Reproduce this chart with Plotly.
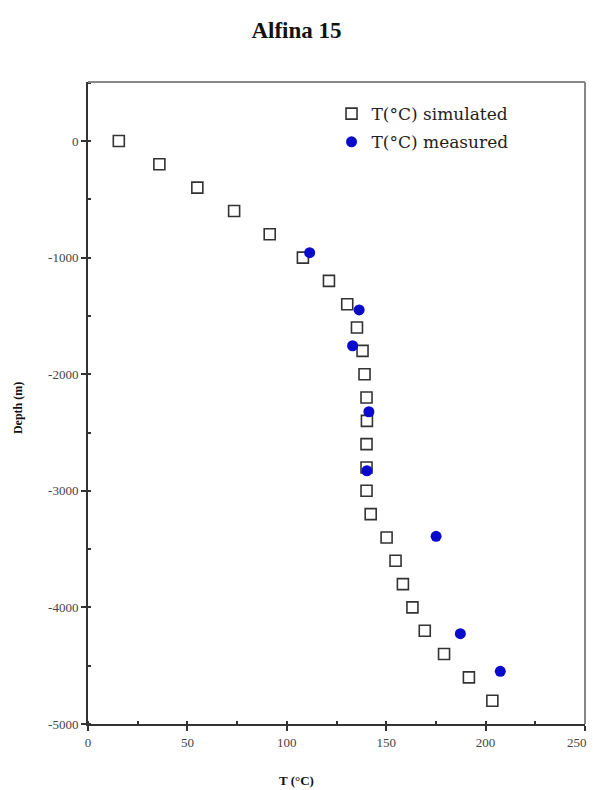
import plotly.graph_objects as go

# ---- data ----
sim_depth = [0, -200, -400, -600, -800, -1000, -1200, -1400, -1600, -1800, -2000,
             -2200, -2400, -2600, -2800, -3000, -3200, -3400, -3600, -3800, -4000,
             -4200, -4400, -4600, -4800]
sim_temp = [15.5, 35.9, 55.0, 73.5, 91.4, 108.1, 121.2, 130.4, 135.3, 138.1, 139.1,
            140.1, 140.3, 140.1, 140.1, 140.1, 142.2, 150.2, 154.7, 158.4, 163.2,
            169.4, 179.1, 191.6, 203.4]

meas_depth = [-958, -1449, -1756, -2322, -2828, -3390, -4225, -4548]
meas_temp = [111.5, 136.4, 133.1, 141.3, 140.3, 175.1, 187.3, 207.4]

y_tickvals = [0, -1000, -2000, -3000, -4000, -5000]
y_ticktext = ["0", "-1000", "-2000", "-3000", "-4000", "-5000"]
x_tickvals = [0, 50, 100, 150, 200, 250]
x_ticktext = ["0", "50", "100", "150", "200", "250"]

SERIF = "Liberation Serif, Times New Roman, serif"
LEG_SERIF = "DejaVu Serif, serif"
TICKFONT = dict(family=SERIF, size=13, color="#444444")

fig = go.Figure()
fig.add_trace(go.Scatter(
    x=sim_temp, y=sim_depth, mode="markers", name="T(°C) simulated",
    legendgroup="a",
    marker=dict(symbol="square-open", size=11, color="#333333",
                line=dict(width=1.6, color="#333333")),
))
fig.add_trace(go.Scatter(
    x=meas_temp, y=meas_depth, mode="markers", name="T(°C) measured",
    legendgroup="b",
    marker=dict(symbol="circle", size=11, color="#0a0acc"),
))

# top and right frame lines (lighter gray)
fig.add_shape(type="line", xref="paper", yref="paper", x0=0, x1=1, y0=1, y1=1,
              line=dict(color="#888888", width=2))
fig.add_shape(type="line", xref="paper", yref="paper", x0=1, x1=1, y0=0, y1=1,
              line=dict(color="#888888", width=2))

fig.add_annotation(text="<b>Depth (m)</b>", xref="paper", yref="paper",
                   x=-0.141, y=0.492, textangle=-90, showarrow=False,
                   font=dict(family=SERIF, size=12, color="#111111"),
                   xanchor="center", yanchor="middle")
fig.add_annotation(text="<b>T (°C)</b>", xref="paper", yref="paper",
                   x=0.42, y=-0.0875, showarrow=False,
                   font=dict(family=SERIF, size=13, color="#111111"),
                   xanchor="center", yanchor="middle")

# last x tick label sits at the figure's right edge: draw it nudged inward
fig.add_annotation(text=x_ticktext[-1], xref="x", yref="paper",
                   x=x_tickvals[-1], y=0, xshift=-8, yshift=-18,
                   showarrow=False, font=TICKFONT,
                   xanchor="center", yanchor="middle")

fig.update_layout(
    width=593, height=790,
    margin=dict(l=87.5, r=8, t=82, b=66),
    paper_bgcolor="white", plot_bgcolor="white",
    title=dict(text="<b>Alfina 15</b>", x=0.5, xanchor="center",
               y=1 - 30 / 790, yanchor="middle", yref="container",
               font=dict(family=SERIF, size=23, color="#111111")),
    showlegend=True,
    legend=dict(x=0.49, y=0.978, xanchor="left", yanchor="top",
                bgcolor="rgba(0,0,0,0)", tracegroupgap=3,
                font=dict(family=LEG_SERIF, size=17, color="#222222")),
    xaxis=dict(range=[0, 250], tickvals=x_tickvals, ticktext=x_ticktext[:-1] + [""],
               showgrid=False, zeroline=False, showline=True,
               linecolor="#333333", linewidth=2, automargin=False,
               ticks="outside", ticklen=5, tickcolor="#333333", tickwidth=1.5,
               minor=dict(dtick=25, ticks="inside", ticklen=3, tickcolor="#333333"),
               tickfont=TICKFONT),
    yaxis=dict(range=[-5000, 506], tickvals=y_tickvals, ticktext=y_ticktext,
               showgrid=False, zeroline=False, showline=True,
               linecolor="#333333", linewidth=2, automargin=False,
               ticks="outside", ticklen=5, tickcolor="#333333", tickwidth=1.5,
               minor=dict(dtick=500, ticks="inside", ticklen=3, tickcolor="#333333"),
               tickfont=TICKFONT),
)

fig.write_html("out.html", config={"displayModeBar": False},
               post_script="document.body.style.margin='0';")
